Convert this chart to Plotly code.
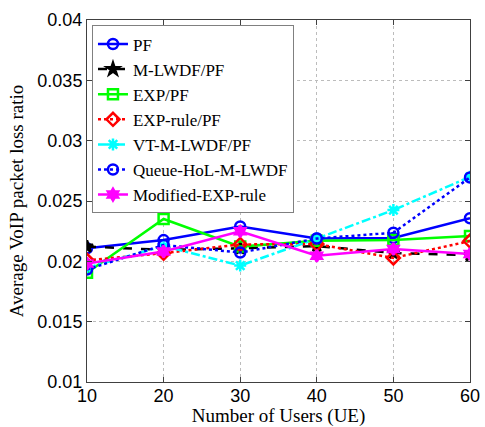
import plotly.graph_objects as go

users = [10, 20, 30, 40, 50, 60]
pf = [0.02108, 0.02176, 0.02289, 0.02189, 0.02193, 0.02357]
mlwdf_pf = [0.02122, 0.02095, 0.02108, 0.02127, 0.02069, 0.02050]
exp_pf = [0.01905, 0.02351, 0.02122, 0.02170, 0.02177, 0.02210]
exprule_pf = [0.02008, 0.02068, 0.02140, 0.02143, 0.02028, 0.02168]
vt_mlwdf_pf = [0.01946, 0.02127, 0.01965, 0.02189, 0.02425, 0.02700]
queue_hol = [0.01932, 0.02135, 0.02073, 0.02189, 0.02237, 0.02695]
mod_exp = [0.01981, 0.02081, 0.02249, 0.02046, 0.02102, 0.02061]

y_ticks = [0.01, 0.015, 0.02, 0.025, 0.03, 0.035, 0.04]
y_tick_text = ["0.01", "0.015", "0.02", "0.025", "0.03", "0.035", "0.04"]
x_ticks = [10, 20, 30, 40, 50, 60]

series = [
    ("PF", pf, "#0000FF", "solid", "circle-open", 10),
    ("M-LWDF/PF", mlwdf_pf, "#000000", "dash", "star", 9),
    ("EXP/PF", exp_pf, "#00FF00", "solid", "square-open", 10),
    ("EXP-rule/PF", exprule_pf, "#FF0000", "dot", "diamond-open", 10),
    ("VT-M-LWDF/PF", vt_mlwdf_pf, "#00FFFF", "dashdot", "asterisk-open", 10),
    ("Queue-HoL-M-LWDF", queue_hol, "#0000FF", "dot", "circle-open", 10),
    ("Modified-EXP-rule", mod_exp, "#FF00FF", "solid", "hexagram", 9),
]

fig = go.Figure()
for name, vals, color, dash, sym, size in series:
    fig.add_trace(go.Scatter(
        x=users, y=vals, name=name, mode="lines+markers",
        line=dict(color=color, dash=dash, width=2.5),
        marker=dict(symbol=sym, size=size, color=color,
                    line=dict(color=color, width=2.5)),
    ))

axis_common = dict(
    showline=True, linecolor="#404040", linewidth=1, mirror="ticks",
    ticks="inside", ticklen=5, tickcolor="#404040",
    showgrid=True, gridcolor="#bcbcbc", griddash="dot", gridwidth=1,
    zeroline=False, automargin=False,
    tickfont=dict(family="Liberation Sans", size=18, color="black"),
    title_font=dict(family="Liberation Serif", size=19, color="black"),
)

fig.update_xaxes(range=[10, 60], tickvals=x_ticks, title_text="Number of Users (UE)",
                 title_standoff=12, ticklabelstandoff=-3, **axis_common)
fig.update_yaxes(range=[0.01, 0.04], tickvals=y_ticks, ticktext=y_tick_text,
                 title_text="Average VoIP packet loss ratio", title_standoff=8,
                 ticklabelstandoff=0, **axis_common)

fig.update_layout(
    width=485, height=427,
    margin=dict(l=87, r=15, t=20, b=45),
    plot_bgcolor="white", paper_bgcolor="white",
    showlegend=True,
    legend=dict(
        x=0.013, y=0.985, xanchor="left", yanchor="top",
        bgcolor="white", bordercolor="#808080", borderwidth=1,
        font=dict(family="Liberation Serif", size=17, color="black"),
        tracegroupgap=0, itemwidth=30,
    ),
)

fig.write_html("out.html", config={"displayModeBar": False},
               post_script="document.body.style.margin='0';document.body.style.overflow='hidden';")
